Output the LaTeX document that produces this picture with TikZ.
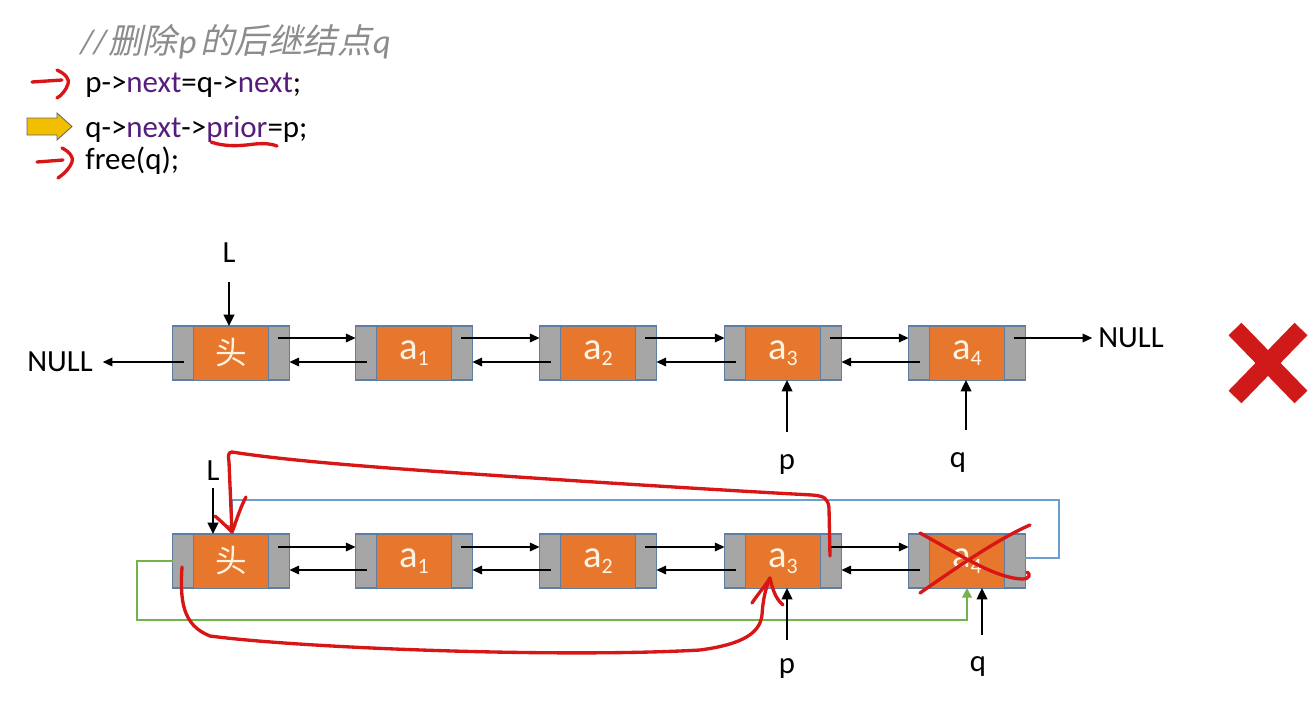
\documentclass[tikz,border=0pt]{standalone}
\usepackage{fontspec}
\setmainfont{Carlito}
\newfontfamily\cjk{Noto Sans CJK SC}
\newfontfamily\cjkit[FakeSlant=0.22]{Noto Sans CJK SC}
\usetikzlibrary{arrows.meta,calc}
\definecolor{nodeorange}{HTML}{E8772E}
\definecolor{cellgray}{HTML}{A6A6A6}
\definecolor{cellborder}{HTML}{5E7EA3}
\definecolor{cream}{HTML}{FFF4E2}
\definecolor{kw}{HTML}{561D7C}
\definecolor{cmtgray}{HTML}{8C8C8C}
\definecolor{inkred}{HTML}{D81616}
\definecolor{xred}{HTML}{D01A1A}
\definecolor{linkblue}{HTML}{6A9FD0}
\definecolor{linkgreen}{HTML}{74B34A}
\definecolor{gold}{HTML}{F2BE00}
\newcommand\sub[1]{\raisebox{-3.2pt}{\fontsize{12.5}{13}\selectfont #1}}
\newcommand\mkcell[4]{%
  \node[cellbox] (#1) at (#2,#3) {};
  \node[cellcore] (#1c) at (#1.center) {#4};}
\tikzset{
  cellbox/.style={draw=cellborder, line width=0.7pt, fill=cellgray,
    minimum width=2.34cm, minimum height=1.08cm, inner sep=0pt, outer sep=0pt},
  cellcore/.style={draw=cellborder, line width=0.45pt, fill=nodeorange,
    minimum width=1.5cm, minimum height=1.08cm, inner sep=0pt, outer sep=0pt,
    text=cream, font=\fontsize{22}{24}\selectfont},
  ptr/.style={line width=0.6pt, -{Triangle[length=5.5pt,width=5pt]}},
  vptr/.style={line width=1.2pt, -{Triangle[length=6.5pt,width=6pt]}},
  lbl/.style={font=\fontsize{17.5}{20}\selectfont, inner sep=1pt},
  code/.style={font=\fontsize{17.6}{20}\selectfont, anchor=base west, inner sep=0pt},
  ink/.style={draw=inkred, line width=1.9pt, line cap=round, line join=round},
  bluel/.style={draw=linkblue, line width=1.2pt},
  greenl/.style={draw=linkgreen, line width=1.2pt},
}
\begin{document}
\begin{tikzpicture}[x=0.02cm,y=-0.02cm]
\useasboundingbox (0,0) rectangle (1316,704);

% ---------- code ----------
\node[code, text=cmtgray, font=\fontsize{19.5}{22}\selectfont] (cmt) at (80,53)
  {{\itshape //}\kern1pt{\cjkit 删除}\kern1pt{\itshape p}\kern2pt{\cjkit 的后继结点}\kern1pt{\itshape q}};
\node[code] (c1) at (85,92) {p->\textcolor{kw}{next}=q->\textcolor{kw}{next};};
\node[code] (c2) at (85,137) {q->\textcolor{kw}{next}->\textcolor{kw}{prior}=p;};
\node[code] (c3) at (85,169) {free(q);};

% red hand marks
\draw[ink] (32,82) -- (62,80);
\draw[ink] (57,70) .. controls (66,74) and (70,80) .. (68,84) .. controls (66,90) and (62,95) .. (57,98);
\draw[ink] (37,162) -- (63,160);
\draw[ink] (62,148) .. controls (70,152) and (74,158) .. (72,162) .. controls (70,168) and (64,174) .. (58,178);
\draw[ink] (211,142) .. controls (225,147) and (240,146) .. (255,144) .. controls (265,143) and (272,144) .. (277,146);
% yellow arrow
\draw[fill=gold, draw=gray!80!black, line width=0.5pt]
  (27,118) -- (57,118) -- (57,113) -- (72,126.5) -- (57,140) -- (57,135) -- (27,135) -- cycle;

% ---------- top row ----------
\mkcell{h1}{231}{353}{\cjk\fontsize{18}{20}\selectfont 头}
\mkcell{a1t}{414}{353}{a\sub{1}}
\mkcell{a2t}{598}{353}{a\sub{2}}
\mkcell{a3t}{783}{353}{a\sub{3}}
\mkcell{a4t}{967}{353}{a\sub{4}}

\foreach \A/\B in {h1/a1t,a1t/a2t,a2t/a3t,a3t/a4t}{
  \draw[ptr] ($(\A.east)+(-11,-15)$) -- ($(\B.west)+(0,-15)$);
  \draw[ptr] ($(\B.west)+(11,9)$) -- ($(\A.east)+(0,9)$);
}
\node[lbl] (nl) at (60,362) {NULL};
\draw[ptr] ($(h1.west)+(11,9)$) -- ($(nl.east)+(8,0)$);
\node[lbl] (nr) at (1131,338) {NULL};
\draw[ptr] ($(a4t.east)+(-11,-15)$) -- ($(nr.west)+(-4,0)$);

\node[lbl] (Lt) at (229,253) {L};
\coordinate (Ltail) at (229,282);
\draw[vptr] (Ltail) -- (Ltail |- h1.north);
\node[lbl] (pt) at (787,464) {p};
\coordinate (ptail) at (787,432);
\draw[vptr] (ptail) -- (ptail |- a3t.south);
\node[lbl] (qt) at (958,462) {q};
\coordinate (qtail) at (966,430);
\draw[vptr] (qtail) -- (qtail |- a4t.south);

% big red cross
\draw[xred, line width=0.36cm] (1235,329) -- (1301,397);
\draw[xred, line width=0.36cm] (1301,329) -- (1235,397);

% ---------- bottom row ----------
\mkcell{hb}{231}{561}{\cjk\fontsize{18}{20}\selectfont 头}
\mkcell{a1b}{414}{561}{a\sub{1}}
\mkcell{a2b}{598}{561}{a\sub{2}}
\mkcell{a3b}{783}{561}{a\sub{3}}
\mkcell{a4b}{967}{561}{a\sub{4}}

\foreach \A/\B in {hb/a1b,a1b/a2b,a2b/a3b,a3b/a4b}{
  \draw[ptr] ($(\A.east)+(-11,-14)$) -- ($(\B.west)+(0,-14)$);
  \draw[ptr] ($(\B.west)+(11,9)$) -- ($(\A.east)+(0,9)$);
}

% blue link (q->next back to head)
\coordinate (bR) at (1059,500);
\coordinate (bL) at (232,500);
\draw[bluel, -{Triangle[length=5pt,width=5pt]}] ($(a4b.east)+(0,-3)$) -| (bR) -- (bL) -- (bL |- hb.north);
% green link (head prior to a4)
\coordinate (gL) at (137,620);
\coordinate (gR) at (967,620);
\draw[greenl, -{Triangle[length=5.5pt,width=5.5pt]}] (hb.west) -| (gL) -- (gR) -- (gR |- a4b.south);

\node[lbl] (Lb) at (213,471) {L};
\coordinate (Lbtail) at (213,488);
\draw[vptr] (Lbtail) -- (Lbtail |- hb.north);
\node[lbl] (pb) at (787,668) {p};
\coordinate (pbtail) at (787,640);
\draw[vptr] (pbtail) -- (pbtail |- a3b.south);
\node[lbl] (qb) at (978,666) {q};
\coordinate (qbtail) at (982,635);
\draw[vptr] (qbtail) -- (qbtail |- a4b.south);

% red hand-drawn strokes
\draw[ink] (830,556) -- (829,508) .. controls (828,498) and (824,496) .. (812,495)
  .. controls (700,489) and (560,480) .. (430,471) .. controls (330,464) and (270,458) .. (232,452)
  .. controls (228,452) and (228,456) .. (229,462) -- (232,532);
\draw[ink] (215,516) .. controls (222,522) and (228,528) .. (232,532)
  .. controls (236,522) and (240,508) .. (246,497);
\draw[ink] (182,567) .. controls (180,600) and (182,625) .. (210,636)
  .. controls (300,648) and (560,658) .. (700,650)
  .. controls (745,644) and (760,632) .. (762,615) .. controls (763,600) and (765,590) .. (770,578);
\draw[ink] (752,603) .. controls (758,594) and (765,586) .. (770,578)
  .. controls (773,592) and (777,600) .. (783,605);
% cross over a4
\draw[ink] (920,533) .. controls (960,555) and (995,578) .. (1022,579) .. controls (1030,579) and (1031,574) .. (1027,572);
\draw[ink] (920,593) .. controls (960,565) and (1000,538) .. (1030,525);
\end{tikzpicture}
\end{document}
